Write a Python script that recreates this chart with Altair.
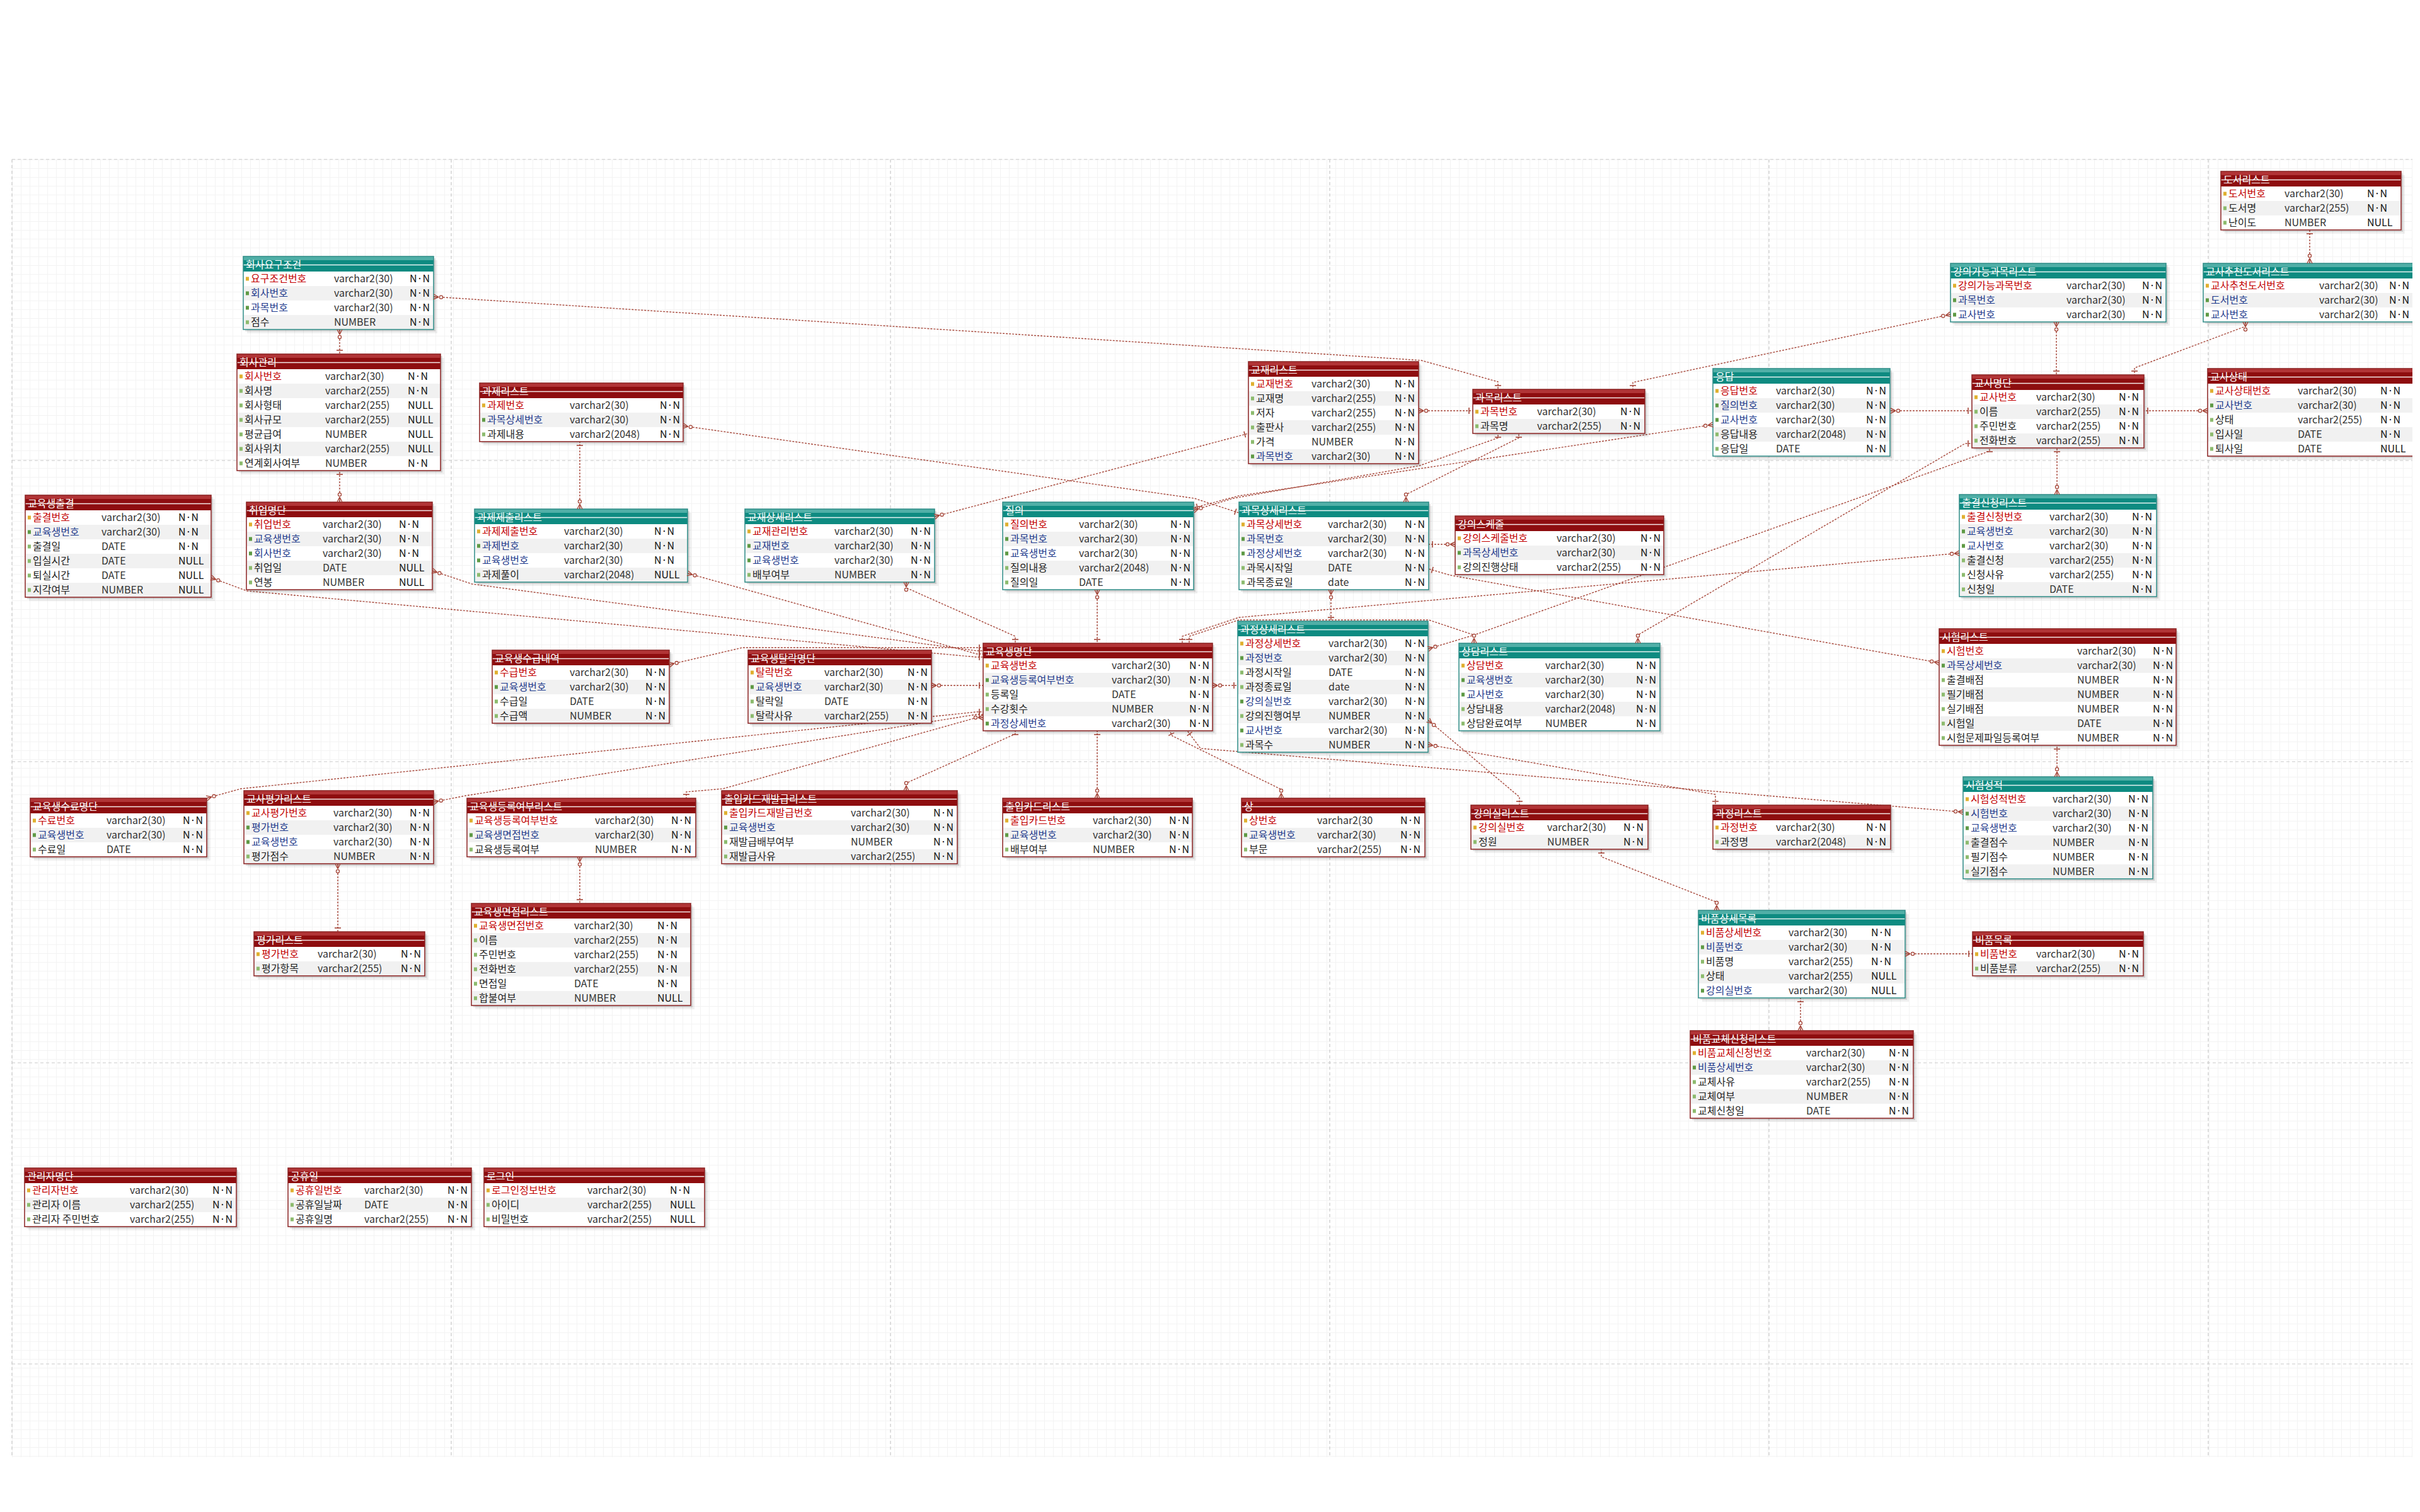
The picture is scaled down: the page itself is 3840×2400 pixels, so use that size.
import math
import altair as alt
import pandas as pd

alt.data_transformers.disable_max_rows()

# ---------------- content: tables and their columns ----------------
TABLE_NAMES = [
    "회사요구조건", "회사관리", "과제리스트", "교육생출결", "취업명단", "과제제출리스트",
    "교재상세리스트", "질의", "교재리스트", "과목리스트", "응답", "과목상세리스트",
    "강의스케줄", "도서리스트", "강의가능과목리스트", "교사추천도서리스트", "교사명단",
    "교사상태", "출결신청리스트", "교육생수급내역", "교육생탈락명단", "교육생명단",
    "과정상세리스트", "상담리스트", "시험리스트", "교육생수료명단", "교사평가리스트",
    "교육생등록여부리스트", "출입카드재발급리스트", "평가리스트", "교육생면접리스트",
    "출입카드리스트", "상", "강의실리스트", "과정리스트", "시험성적", "비품상세목록",
    "비품목록", "비품교체신청리스트", "관리자명단", "공휴일", "로그인",
]

TEAL_TABLES = [
    "회사요구조건", "과제제출리스트", "교재상세리스트", "질의", "응답", "과목상세리스트",
    "강의가능과목리스트", "교사추천도서리스트", "출결신청리스트", "과정상세리스트",
    "상담리스트", "시험성적", "비품상세목록",
]

V30, V255, V2048 = "varchar2(30)", "varchar2(255)", "varchar2(2048)"
NN, NL = "N·N", "NULL"

COLUMNS = {
    "회사요구조건": [("요구조건번호", V30, NN, "pk"), ("회사번호", V30, NN, "fk"), ("과목번호", V30, NN, "fk"), ("점수", "NUMBER", NN, "col")],
    "회사관리": [("회사번호", V30, NN, "pk"), ("회사명", V255, NN, "col"), ("회사형태", V255, NL, "col"), ("회사규모", V255, NL, "col"),
              ("평균급여", "NUMBER", NL, "col"), ("회사위치", V255, NL, "col"), ("연계회사여부", "NUMBER", NN, "col")],
    "과제리스트": [("과제번호", V30, NN, "pk"), ("과목상세번호", V30, NN, "fk"), ("과제내용", V2048, NN, "col")],
    "교육생출결": [("출결번호", V30, NN, "pk"), ("교육생번호", V30, NN, "fk"), ("출결일", "DATE", NN, "col"),
              ("입실시간", "DATE", NL, "col"), ("퇴실시간", "DATE", NL, "col"), ("지각여부", "NUMBER", NL, "col")],
    "취업명단": [("취업번호", V30, NN, "pk"), ("교육생번호", V30, NN, "fk"), ("회사번호", V30, NN, "fk"),
             ("취업일", "DATE", NL, "col"), ("연봉", "NUMBER", NL, "col")],
    "과제제출리스트": [("과제제출번호", V30, NN, "pk"), ("과제번호", V30, NN, "fk"), ("교육생번호", V30, NN, "fk"), ("과제풀이", V2048, NL, "col")],
    "교재상세리스트": [("교재관리번호", V30, NN, "pk"), ("교재번호", V30, NN, "fk"), ("교육생번호", V30, NN, "fk"), ("배부여부", "NUMBER", NN, "col")],
    "질의": [("질의번호", V30, NN, "pk"), ("과목번호", V30, NN, "fk"), ("교육생번호", V30, NN, "fk"),
           ("질의내용", V2048, NN, "col"), ("질의일", "DATE", NN, "col")],
    "교재리스트": [("교재번호", V30, NN, "pk"), ("교재명", V255, NN, "col"), ("저자", V255, NN, "col"),
              ("출판사", V255, NN, "col"), ("가격", "NUMBER", NN, "col"), ("과목번호", V30, NN, "fk")],
    "과목리스트": [("과목번호", V30, NN, "pk"), ("과목명", V255, NN, "col")],
    "응답": [("응답번호", V30, NN, "pk"), ("질의번호", V30, NN, "fk"), ("교사번호", V30, NN, "fk"),
           ("응답내용", V2048, NN, "col"), ("응답일", "DATE", NN, "col")],
    "과목상세리스트": [("과목상세번호", V30, NN, "pk"), ("과목번호", V30, NN, "fk"), ("과정상세번호", V30, NN, "fk"),
                ("과목시작일", "DATE", NN, "col"), ("과목종료일", "date", NN, "col")],
    "강의스케줄": [("강의스케줄번호", V30, NN, "pk"), ("과목상세번호", V30, NN, "fk"), ("강의진행상태", V255, NN, "col")],
    "도서리스트": [("도서번호", V30, NN, "pk"), ("도서명", V255, NN, "col"), ("난이도", "NUMBER", NL, "col")],
    "강의가능과목리스트": [("강의가능과목번호", V30, NN, "pk"), ("과목번호", V30, NN, "fk"), ("교사번호", V30, NN, "fk")],
    "교사추천도서리스트": [("교사추천도서번호", V30, NN, "pk"), ("도서번호", V30, NN, "fk"), ("교사번호", V30, NN, "fk")],
    "교사명단": [("교사번호", V30, NN, "pk"), ("이름", V255, NN, "col"), ("주민번호", V255, NN, "col"), ("전화번호", V255, NN, "col")],
    "교사상태": [("교사상태번호", V30, NN, "pk"), ("교사번호", V30, NN, "fk"), ("상태", V255, NN, "col"),
             ("입사일", "DATE", NN, "col"), ("퇴사일", "DATE", NL, "col")],
    "출결신청리스트": [("출결신청번호", V30, NN, "pk"), ("교육생번호", V30, NN, "fk"), ("교사번호", V30, NN, "fk"),
                ("출결신청", V255, NN, "col"), ("신청사유", V255, NN, "col"), ("신청일", "DATE", NN, "col")],
    "교육생수급내역": [("수급번호", V30, NN, "pk"), ("교육생번호", V30, NN, "fk"), ("수급일", "DATE", NN, "col"), ("수급액", "NUMBER", NN, "col")],
    "교육생탈락명단": [("탈락번호", V30, NN, "pk"), ("교육생번호", V30, NN, "fk"), ("탈락일", "DATE", NN, "col"), ("탈락사유", V255, NN, "col")],
    "교육생명단": [("교육생번호", V30, NN, "pk"), ("교육생등록여부번호", V30, NN, "fk"), ("등록일", "DATE", NN, "col"),
              ("수강횟수", "NUMBER", NN, "col"), ("과정상세번호", V30, NN, "fk")],
    "과정상세리스트": [("과정상세번호", V30, NN, "pk"), ("과정번호", V30, NN, "fk"), ("과정시작일", "DATE", NN, "col"),
                ("과정종료일", "date", NN, "col"), ("강의실번호", V30, NN, "fk"), ("강의진행여부", "NUMBER", NN, "col"),
                ("교사번호", V30, NN, "fk"), ("과목수", "NUMBER", NN, "col")],
    "상담리스트": [("상담번호", V30, NN, "pk"), ("교육생번호", V30, NN, "fk"), ("교사번호", V30, NN, "fk"),
              ("상담내용", V2048, NN, "col"), ("상담완료여부", "NUMBER", NN, "col")],
    "시험리스트": [("시험번호", V30, NN, "pk"), ("과목상세번호", V30, NN, "fk"), ("출결배점", "NUMBER", NN, "col"),
              ("필기배점", "NUMBER", NN, "col"), ("실기배점", "NUMBER", NN, "col"), ("시험일", "DATE", NN, "col"),
              ("시험문제파일등록여부", "NUMBER", NN, "col")],
    "교육생수료명단": [("수료번호", V30, NN, "pk"), ("교육생번호", V30, NN, "fk"), ("수료일", "DATE", NN, "col")],
    "교사평가리스트": [("교사평가번호", V30, NN, "pk"), ("평가번호", V30, NN, "fk"), ("교육생번호", V30, NN, "fk"), ("평가점수", "NUMBER", NN, "col")],
    "교육생등록여부리스트": [("교육생등록여부번호", V30, NN, "pk"), ("교육생면접번호", V30, NN, "fk"), ("교육생등록여부", "NUMBER", NN, "col")],
    "출입카드재발급리스트": [("출입카드재발급번호", V30, NN, "pk"), ("교육생번호", V30, NN, "fk"),
                   ("재발급배부여부", "NUMBER", NN, "col"), ("재발급사유", V255, NN, "col")],
    "평가리스트": [("평가번호", V30, NN, "pk"), ("평가항목", V255, NN, "col")],
    "교육생면접리스트": [("교육생면접번호", V30, NN, "pk"), ("이름", V255, NN, "col"), ("주민번호", V255, NN, "col"),
                 ("전화번호", V255, NN, "col"), ("면접일", "DATE", NN, "col"), ("합불여부", "NUMBER", NL, "col")],
    "출입카드리스트": [("출입카드번호", V30, NN, "pk"), ("교육생번호", V30, NN, "fk"), ("배부여부", "NUMBER", NN, "col")],
    "상": [("상번호", "varchar2(30", NN, "pk"), ("교육생번호", V30, NN, "fk"), ("부문", V255, NN, "col")],
    "강의실리스트": [("강의실번호", V30, NN, "pk"), ("정원", "NUMBER", NN, "col")],
    "과정리스트": [("과정번호", V30, NN, "pk"), ("과정명", V2048, NN, "col")],
    "시험성적": [("시험성적번호", V30, NN, "pk"), ("시험번호", V30, NN, "fk"), ("교육생번호", V30, NN, "fk"),
             ("출결점수", "NUMBER", NN, "col"), ("필기점수", "NUMBER", NN, "col"), ("실기점수", "NUMBER", NN, "col")],
    "비품상세목록": [("비품상세번호", V30, NN, "pk"), ("비품번호", V30, NN, "fk"), ("비품명", V255, NN, "col"),
               ("상태", V255, NL, "col"), ("강의실번호", V30, NL, "fk")],
    "비품목록": [("비품번호", V30, NN, "pk"), ("비품분류", V255, NN, "col")],
    "비품교체신청리스트": [("비품교체신청번호", V30, NN, "pk"), ("비품상세번호", V30, NN, "fk"), ("교체사유", V255, NN, "col"),
                  ("교체여부", "NUMBER", NN, "col"), ("교체신청일", "DATE", NN, "col")],
    "관리자명단": [("관리자번호", V30, NN, "pk"), ("관리자 이름", V255, NN, "col"), ("관리자 주민번호", V255, NN, "col")],
    "공휴일": [("공휴일번호", V30, NN, "pk"), ("공휴일날짜", "DATE", NN, "col"), ("공휴일명", V255, NN, "col")],
    "로그인": [("로그인정보번호", V30, NN, "pk"), ("아이디", V255, NL, "col"), ("비밀번호", V255, NL, "col")],
}

# ---------------- layout: left, top, width, type column offset, null column offset ----------------
LAYOUT = {
    "회사요구조건": (386, 407, 302, 144, 264),
    "회사관리": (376, 562, 323, 140, 271),
    "과제리스트": (761, 608, 323, 143, 286),
    "교육생출결": (40, 786, 295, 121, 243),
    "취업명단": (391, 797, 295, 121, 242),
    "과제제출리스트": (753, 808, 338, 142, 285),
    "교재상세리스트": (1182, 808, 301, 142, 263),
    "질의": (1591, 797, 303, 121, 266),
    "교재리스트": (1981, 574, 270, 100, 232),
    "과목리스트": (2337, 618, 273, 102, 234),
    "응답": (2718, 585, 281, 100, 243),
    "과목상세리스트": (1966, 797, 301, 141, 263),
    "강의스케줄": (2309, 819, 331, 161, 294),
    "도서리스트": (3524, 272, 286, 101, 232),
    "강의가능과목리스트": (3095, 418, 342, 184, 304),
    "교사추천도서리스트": (3496, 418, 350, 184, 295),
    "교사명단": (3129, 595, 273, 102, 233),
    "교사상태": (3503, 585, 345, 143, 274),
    "출결신청리스트": (3109, 785, 313, 143, 274),
    "교육생수급내역": (781, 1032, 281, 123, 243),
    "교육생탈락명단": (1187, 1032, 291, 121, 253),
    "교육생명단": (1560, 1021, 364, 204, 327),
    "과정상세리스트": (1964, 986, 302, 144, 265),
    "상담리스트": (2315, 1021, 319, 137, 281),
    "시험리스트": (3077, 998, 376, 219, 339),
    "교육생수료명단": (48, 1267, 280, 121, 242),
    "교사평가리스트": (387, 1255, 301, 142, 263),
    "교육생등록여부리스트": (741, 1267, 363, 203, 324),
    "출입카드재발급리스트": (1145, 1255, 374, 205, 336),
    "평가리스트": (403, 1479, 271, 101, 233),
    "교육생면접리스트": (748, 1434, 348, 163, 295),
    "출입카드리스트": (1591, 1267, 301, 143, 264),
    "상": (1970, 1267, 291, 120, 252),
    "강의실리스트": (2334, 1278, 281, 121, 242),
    "과정리스트": (2718, 1278, 282, 100, 243),
    "시험성적": (3115, 1233, 301, 142, 262),
    "비품상세목록": (2695, 1445, 328, 143, 274),
    "비품목록": (3130, 1479, 271, 101, 232),
    "비품교체신청리스트": (2682, 1636, 354, 184, 315),
    "관리자명단": (39, 1854, 336, 167, 298),
    "공휴일": (457, 1854, 291, 121, 253),
    "로그인": (768, 1854, 350, 164, 295),
}

# relationship paths: child end first, parent end last
RELATIONS = [
    [(539, 523), (539, 562)],
    [(539, 797), (539, 747)],
    [(688, 471), (2255, 572), (2377, 606), (2377, 618)],
    [(1084, 676), (1895, 791), (1966, 814)],
    [(920, 808), (920, 701)],
    [(1091, 910), (1550, 1038), (1560, 1038)],
    [(686, 906), (749, 927), (1550, 1033), (1560, 1033)],
    [(335, 917), (392, 938), (1550, 1043), (1560, 1043)],
    [(1483, 820), (1981, 688)],
    [(1438, 924), (1438, 933), (1611, 1010), (1611, 1021)],
    [(1741, 936), (1741, 1021)],
    [(1894, 810), (1957, 791), (2253, 739), (2377, 695), (2377, 688)],
    [(2718, 674), (1966, 787), (1894, 806)],
    [(2231, 797), (2231, 785), (2410, 695), (2410, 688)],
    [(2251, 652), (2337, 652)],
    [(2309, 864), (2267, 864)],
    [(3077, 1052), (2301, 913), (2267, 903)],
    [(2112, 936), (2112, 986)],
    [(1924, 1088), (1964, 1088)],
    [(3109, 878), (1966, 980), (1876, 1010), (1876, 1021)],
    [(2339, 1021), (2339, 1008), (2267, 984), (1966, 984), (1887, 1010), (1887, 1021)],
    [(2266, 1030), (2339, 1008), (3157, 716), (3157, 711)],
    [(2599, 1021), (2599, 1008), (3118, 704), (3129, 704)],
    [(3264, 785), (3264, 711)],
    [(3000, 652), (3129, 652)],
    [(3503, 652), (3402, 652)],
    [(3263, 511), (3263, 595)],
    [(3563, 511), (3563, 518), (3387, 584), (3387, 595)],
    [(3665, 418), (3665, 365)],
    [(3095, 499), (2591, 607), (2591, 618)],
    [(1062, 1055), (1178, 1028), (1550, 1028), (1560, 1028)],
    [(1478, 1088), (1560, 1088)],
    [(328, 1267), (382, 1252), (1550, 1130), (1560, 1130)],
    [(688, 1273), (739, 1263), (1550, 1134), (1560, 1134)],
    [(1560, 1139), (1550, 1139), (1147, 1252), (1089, 1257), (1089, 1267)],
    [(1438, 1255), (1438, 1243), (1611, 1165), (1611, 1160)],
    [(1741, 1267), (1741, 1160)],
    [(2033, 1267), (2033, 1253), (1860, 1168), (1856, 1160)],
    [(3115, 1289), (1905, 1188), (1884, 1160)],
    [(2266, 1143), (2411, 1265), (2411, 1278)],
    [(2266, 1182), (2722, 1261), (2722, 1278)],
    [(2724, 1445), (2724, 1432), (2541, 1360), (2541, 1348)],
    [(3023, 1514), (3130, 1514)],
    [(2857, 1636), (2857, 1584)],
    [(3264, 1233), (3264, 1183)],
    [(536, 1371), (536, 1479)],
    [(920, 1360), (920, 1434)],
]

PAGE_X = [19, 716, 1413, 2110, 2807, 3504]
PAGE_Y = [253, 731, 1209, 1687, 2165]
GRID_X = list(range(19, 3829, 14))
GRID_Y = list(range(253, 2314, 14))
MASKS = [(8, 3828, 8, 253), (8, 19, 253, 2378), (8, 3828, 2313, 2378)]

# ---------------- styling ----------------
FONT = "Noto Sans CJK KR"
HEADER_H, ROW_H = 24, 23
RED_HEAD, TEAL_HEAD = "#8e0d0f", "#0e8b81"
RED_BAND, TEAL_BAND = "#b5393b", "#58b3ab"
RED_EDGE, TEAL_EDGE = "#8a2222", "#2e8c86"
REL_COLOR = "#a6473a"

XS = alt.Scale(domain=[8, 3828], nice=False, zero=False)
YS = alt.Scale(domain=[8, 2378], nice=False, zero=False, reverse=True)
XAX = alt.Axis(values=GRID_X, grid=True, gridColor="#f3f3f3", gridWidth=1, labels=False, ticks=False, domain=False, title=None)
YAX = alt.Axis(values=GRID_Y, grid=True, gridColor="#f3f3f3", gridWidth=1, labels=False, ticks=False, domain=False, title=None)


def X(f):
    return alt.X(f, type="quantitative", scale=XS, axis=XAX)


def Y(f):
    return alt.Y(f, type="quantitative", scale=YS, axis=YAX)


THEME_SCALE = alt.Scale(domain=["red", "teal"], range=[RED_HEAD, TEAL_HEAD])
BAND_SCALE = alt.Scale(domain=["red", "teal"], range=[RED_BAND, TEAL_BAND])
EDGE_SCALE = alt.Scale(domain=["red", "teal"], range=[RED_EDGE, TEAL_EDGE])
KIND_SCALE = alt.Scale(domain=["pk", "fk", "col"], range=["#c20000", "#1f3a8c", "#1e1e1e"])
ICON_SCALE = alt.Scale(domain=["pk", "fk", "col"], range=["#e0b030", "#5f9a45", "#8dbb6e"])

# ---------------- build tables ----------------
boxes, rows = [], []
for t in TABLE_NAMES:
    L, T, W, TX, NX = LAYOUT[t]
    cols = COLUMNS[t]
    H = HEADER_H + ROW_H * len(cols)
    theme = "teal" if t in TEAL_TABLES else "red"
    boxes.append(dict(table=t, theme=theme, x=L, x2=L + W, y=T, y2=T + H, hy2=T + HEADER_H,
                      by2=T + 6, ly=T + 13.5, ty=T + 13.5, tx=L + 4,
                      s1x=L + 3, s1x2=L + W + 3, s1y=T + 3, s1y2=T + H + 3,
                      s2x=L + 6, s2x2=L + W + 6, s2y=T + 6, s2y2=T + H + 6))
    for i, (c, ty, nu, k) in enumerate(cols):
        y0 = T + HEADER_H + ROW_H * i
        yc = y0 + ROW_H / 2
        rows.append(dict(table=t, i=i, name=c, type=ty, null=nu, kind=k, shade=i % 2,
                         x=L + 1, x2=L + W - 1, y=y0, y2=y0 + ROW_H, yc=yc,
                         xn=L + 12, xt=L + TX, xnull=L + NX,
                         ix=L + 4, ix2=L + 9, iy=yc - 3, iy2=yc + 3))

box_df = pd.DataFrame(boxes)
row_df = pd.DataFrame(rows)
shade_df = row_df[row_df["shade"] == 1]

# ---------------- relationships ----------------
line_rows, tick_rows, foot_rows, circ_rows = [], [], [], []


def unit(a, b):
    dx, dy = b[0] - a[0], b[1] - a[1]
    ln = math.hypot(dx, dy) or 1.0
    return dx / ln, dy / ln


for rid, pts in enumerate(RELATIONS):
    for k, (px_, py_) in enumerate(pts):
        line_rows.append(dict(rid=rid, k=k, x=px_, y=py_))
    e, n = pts[0], pts[1]
    ux, uy = unit(e, n)
    qx, qy = -uy, ux
    bx, by = e[0] + ux * 8, e[1] + uy * 8
    for s in (-1, 0, 1):
        foot_rows.append(dict(x=bx, y=by, x2=e[0] + qx * 4 * s, y2=e[1] + qy * 4 * s))
    circ_rows.append(dict(x=e[0] + ux * 12, y=e[1] + uy * 12))
    e, n = pts[-1], pts[-2]
    ux, uy = unit(e, n)
    qx, qy = -uy, ux
    cx, cy = e[0] + ux * 6, e[1] + uy * 6
    tick_rows.append(dict(x=cx + qx * 5, y=cy + qy * 5, x2=cx - qx * 5, y2=cy - qy * 5))

line_df = pd.DataFrame(line_rows)
tick_df = pd.DataFrame(tick_rows)
foot_df = pd.DataFrame(foot_rows)
circ_df = pd.DataFrame(circ_rows)

mask_df = pd.DataFrame([dict(x=a, x2=b, y=c, y2=d) for a, b, c, d in MASKS])
vpage_df = pd.DataFrame([dict(x=v, y=253, y2=2313) for v in PAGE_X])
hpage_df = pd.DataFrame([dict(y=v, x=19, x2=3828) for v in PAGE_Y])

# ---------------- layers ----------------
masks = alt.Chart(mask_df).mark_rect(color="white", clip=True).encode(
    x=X("x"), x2="x2", y=Y("y"), y2="y2")
vpage = alt.Chart(vpage_df).mark_rule(color="#c9c9c9", strokeDash=[5, 4], strokeWidth=1.2, clip=True).encode(
    x=X("x"), y=Y("y"), y2="y2")
hpage = alt.Chart(hpage_df).mark_rule(color="#c9c9c9", strokeDash=[5, 4], strokeWidth=1.2, clip=True).encode(
    x=X("x"), x2="x2", y=Y("y"))

shadow2 = alt.Chart(box_df).mark_rect(color="#000000", opacity=0.06, clip=True).encode(
    x=X("s2x"), x2="s2x2", y=Y("s2y"), y2="s2y2")
shadow1 = alt.Chart(box_df).mark_rect(color="#000000", opacity=0.12, clip=True).encode(
    x=X("s1x"), x2="s1x2", y=Y("s1y"), y2="s1y2")

rel_lines = alt.Chart(line_df).mark_line(color=REL_COLOR, strokeDash=[3, 2], strokeWidth=1.4, clip=True).encode(
    x=X("x"), y=Y("y"), detail="rid:N", order="k:Q")

body = alt.Chart(box_df).mark_rect(color="white", clip=True).encode(
    x=X("x"), x2="x2", y=Y("y"), y2="y2")
shades = alt.Chart(shade_df).mark_rect(color="#f1f1f1", clip=True).encode(
    x=X("x"), x2="x2", y=Y("y"), y2="y2")
header = alt.Chart(box_df).mark_rect(clip=True).encode(
    x=X("x"), x2="x2", y=Y("y"), y2="hy2",
    color=alt.Color("theme:N", scale=THEME_SCALE, legend=None))
band = alt.Chart(box_df).mark_rect(clip=True, opacity=0.9).encode(
    x=X("x"), x2="x2", y=Y("y"), y2="by2",
    color=alt.Color("theme:N", scale=BAND_SCALE, legend=None))
hline = alt.Chart(box_df).mark_rule(color="white", strokeWidth=1.4, opacity=0.9, clip=True).encode(
    x=X("x"), x2="x2", y=Y("ly"))
border = alt.Chart(box_df).mark_rect(fillOpacity=0, strokeWidth=1.5, clip=True).encode(
    x=X("x"), x2="x2", y=Y("y"), y2="y2",
    stroke=alt.Stroke("theme:N", scale=EDGE_SCALE, legend=None))
title_txt = alt.Chart(box_df).mark_text(align="left", baseline="middle", font=FONT, fontSize=16,
                                        color="white", clip=True).encode(
    x=X("tx"), y=Y("ty"), text="table:N")

icons = alt.Chart(row_df).mark_rect(clip=True).encode(
    x=X("ix"), x2="ix2", y=Y("iy"), y2="iy2",
    color=alt.Color("kind:N", scale=ICON_SCALE, legend=None))
name_txt = alt.Chart(row_df).mark_text(align="left", baseline="middle", font=FONT, fontSize=16, clip=True).encode(
    x=X("xn"), y=Y("yc"), text="name:N",
    color=alt.Color("kind:N", scale=KIND_SCALE, legend=None))
type_txt = alt.Chart(row_df).mark_text(align="left", baseline="middle", font=FONT, fontSize=16,
                                       color="#333333", clip=True).encode(
    x=X("xt"), y=Y("yc"), text="type:N")
null_txt = alt.Chart(row_df).mark_text(align="left", baseline="middle", font=FONT, fontSize=16,
                                       color="#111111", clip=True).encode(
    x=X("xnull"), y=Y("yc"), text="null:N")

ticks = alt.Chart(tick_df).mark_rule(color=REL_COLOR, strokeWidth=1.6, clip=True).encode(
    x=X("x"), x2="x2", y=Y("y"), y2="y2")
feet = alt.Chart(foot_df).mark_rule(color=REL_COLOR, strokeWidth=1.4, clip=True).encode(
    x=X("x"), x2="x2", y=Y("y"), y2="y2")
circs = alt.Chart(circ_df).mark_point(shape="circle", filled=True, fill="white", stroke=REL_COLOR,
                                      strokeWidth=1.3, size=26, opacity=1, clip=True).encode(
    x=X("x"), y=Y("y"))

chart = alt.layer(
    masks, vpage, hpage, rel_lines, shadow2, shadow1, body, shades, header, band, hline,
    border, title_txt, icons, name_txt, type_txt, null_txt, ticks, feet, circs
).resolve_scale(
    color="independent", stroke="independent"
).properties(
    width=3820, height=2370, padding=0, autosize=alt.AutoSizeParams(type="none"), background="white"
).configure_view(stroke=None)

chart.save("out.html", embed_options={"renderer": "svg", "actions": False})
